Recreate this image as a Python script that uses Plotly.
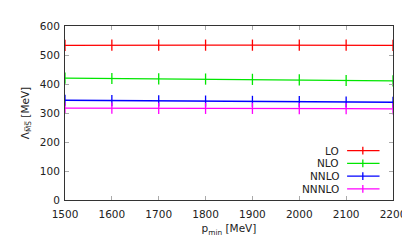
import plotly.graph_objects as go

p_min = [1500, 1600, 1700, 1800, 1900, 2000, 2100, 2200]
lo = [533, 534, 534, 534, 534, 534, 534, 533]
nlo = [420, 419, 418, 417, 416, 414, 412, 411]
nnlo = [344, 343, 342, 341, 340, 339, 338, 337]
nnnlo = [317, 317, 316, 316, 316, 315, 315, 314]

names = ["LO", "NLO", "NNLO", "NNNLO"]
series = [lo, nlo, nnlo, nnnlo]
colors = ["#ff0000", "#00e600", "#0000ff", "#ff00ff"]

x_ticks = [1500, 1600, 1700, 1800, 1900, 2000, 2100, 2200]
y_ticks = [0, 100, 200, 300, 400, 500, 600]

fig = go.Figure()
for n, s, c in zip(names, series, colors):
    fig.add_trace(go.Scatter(
        x=p_min, y=s, name=n, mode="lines+markers", cliponaxis=False,
        line=dict(color=c, width=1.3),
        marker=dict(symbol="line-ns-open", size=8, line=dict(color=c, width=1.3)),
        showlegend=False,
    ))

font = dict(family="DejaVu Sans", size=10.5, color="#222222")

# manual gnuplot-style legend (text right, sample on right)
leg_y = [142, 155, 168, 181]
for n, c, yy in zip(names, colors, leg_y):
    yp = 1 - (yy - 15) / (192.3 - 15)
    fig.add_annotation(xref="paper", yref="paper", x=(338 - 57) / (390.7 - 57), y=yp,
                       text=n, showarrow=False, xanchor="right", yanchor="middle",
                       font=font)
    x0 = (344 - 57) / (390.7 - 57)
    x1 = (377 - 57) / (390.7 - 57)
    xm = (360 - 57) / (390.7 - 57)
    fig.add_shape(type="line", xref="paper", yref="paper", x0=x0, x1=x1, y0=yp, y1=yp,
                  line=dict(color=c, width=1.3))
    dy = 4 / (192.3 - 15)
    fig.add_shape(type="line", xref="paper", yref="paper", x0=xm, x1=xm, y0=yp - dy, y1=yp + dy,
                  line=dict(color=c, width=1.3))

axis_common = dict(
    showgrid=False, zeroline=False, showline=True, linecolor="#333333", linewidth=1,
    mirror="ticks", ticks="inside", ticklen=4, tickcolor="#aaaaaa", tickwidth=1,
    tickfont=font,
)

fig.update_layout(
    width=410, height=246,
    margin=dict(l=57, r=19, t=15, b=54),
    paper_bgcolor="white", plot_bgcolor="white",
    font=font,
    xaxis=dict(range=[1500, 2200], tickvals=x_ticks, ticktext=[str(v) for v in x_ticks],
               ticklabelstandoff=4,
               title=dict(text="p<sub>min</sub> [MeV]", font=font, standoff=6), **axis_common),
    yaxis=dict(range=[0, 600], tickvals=y_ticks, ticktext=[str(v) for v in y_ticks],
               ticklabelstandoff=2,
               title=dict(text="Λ<sub>M\u0305S\u0305</sub> [MeV]", font=font, standoff=8), **axis_common),
)

fig.write_html("out.html")
